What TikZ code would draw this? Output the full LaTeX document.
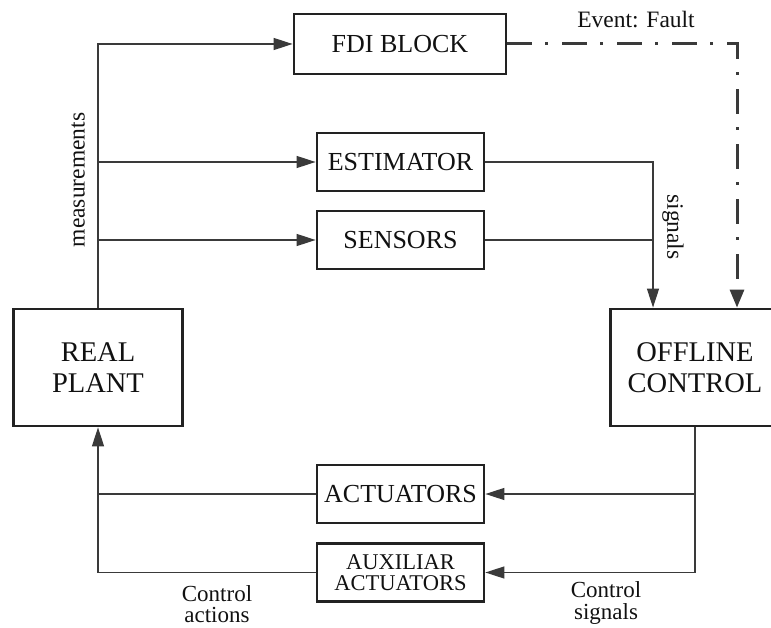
\documentclass[tikz,border=0pt]{standalone}
\usepackage{fontspec}
\setmainfont{Liberation Serif}
\usetikzlibrary{arrows.meta,calc}

\definecolor{boxc}{HTML}{222222}
\definecolor{linec}{HTML}{3A3A3A}
\definecolor{txtc}{HTML}{111111}

\tikzset{
  block/.style={draw=boxc, line width=2.8pt, inner sep=0pt, align=center,
    text=txtc, minimum width=167pt, minimum height=58pt,
    font=\fontsize{26}{28}\selectfont},
  bigblock/.style={block, minimum width=169pt, minimum height=117pt,
    font=\fontsize{28.5}{31}\selectfont},
  conn/.style={draw=linec, line width=1.3pt},
  tip/.style={-{Triangle[length=19pt,width=12pt]}},
  fault/.style={draw=linec, line width=3pt,
    dash pattern=on 25pt off 13pt on 3pt off 14pt,
    -{Triangle[length=18pt,width=14pt]}},
  lbl/.style={inner sep=0pt, text=txtc, font=\fontsize{23}{21.5}\selectfont},
  lbltwo/.style={lbl, align=center}
}

\begin{document}
\begin{tikzpicture}[x=1pt,y=-1pt]
\useasboundingbox (0,0) rectangle (771,628);

% blocks
\node[block, minimum width=212pt, minimum height=60pt] (fdi) at (400,44) {FDI BLOCK};
\node[block] (est) at (400.5,162) {ESTIMATOR};
\node[block] (sen) at (400.5,240) {SENSORS};
\node[bigblock] (real) at (98,367.5) {REAL\\PLANT};
\node[bigblock] (off) at (695,367.5) {OFFLINE\\CONTROL};
\node[block] (act) at (400.5,494) {ACTUATORS};
\node[block, font=\fontsize{22.5}{21.5}\selectfont] (aux) at (400.5,572.5) {AUXILIAR\\ACTUATORS};

% routing columns
\coordinate (sigx) at (653,0);
\coordinate (faultx) at (737,0);

% measurements from the plant
\draw[conn,tip] (real.north) |- (fdi.west);
\draw[conn,tip] (real.north |- est.west) -- (est.west);
\draw[conn,tip] (real.north |- sen.west) -- (sen.west);

% signals to the controller
\draw[conn,tip] (est.east) -| (sigx |- off.north);
\draw[conn] (sen.east) -- (sigx |- sen.east);

% fault event
\draw[fault] (fdi.east) -| (faultx |- off.north);

% control signals to the actuators
\draw[conn,tip] (off.south) |- (aux.east);
\draw[conn,tip] (off.south |- act.east) -- (act.east);

% control actions back to the plant
\draw[conn,tip] (aux.west) -| (real.south);
\draw[conn] (act.west) -- (real.south |- act.west);

% labels
\node[lbl, font=\fontsize{23.5}{21.5}\selectfont, rotate=90] (meas) at (78,180) {measurements};
\node[lbl, font=\fontsize{23.5}{21.5}\selectfont, rotate=-90] (sig) at (673,227) {signals};
\node[lbl, font=\fontsize{23.5}{21.5}\selectfont] (ev) at (636,20) {Event: Fault};
\node[lbltwo] (ca) at (217,604) {Control\\actions};
\node[lbltwo] (cs) at (606,603) {Control\\signals};
\end{tikzpicture}
\end{document}
